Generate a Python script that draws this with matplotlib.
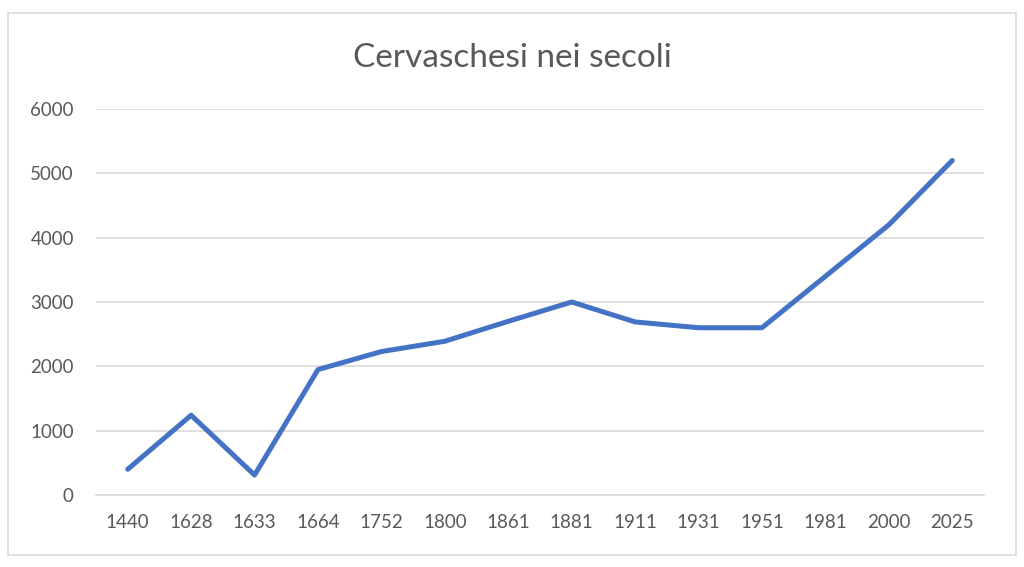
import matplotlib
matplotlib.use('Agg')
import matplotlib.pyplot as plt
from matplotlib.patches import Rectangle

anni = ['1440', '1628', '1633', '1664', '1752', '1800', '1861', '1881',
        '1911', '1931', '1951', '1981', '2000', '2025']
abitanti = [400, 1240, 310, 1950, 2230, 2390, 2700, 3000,
            2690, 2600, 2600, 3400, 4200, 5200]
yticks = [0, 1000, 2000, 3000, 4000, 5000, 6000]

plt.rcParams['font.family'] = ['Lato', 'DejaVu Sans']
grey = '#595959'

fig = plt.figure(figsize=(10.24, 5.67), dpi=100)
# chart border
fig.patches.append(Rectangle((8/1024, 1-555/567), 1008/1024, 542/567,
                             transform=fig.transFigure, fill=False,
                             edgecolor='#D9D9D9', linewidth=1.2))

ax = fig.add_axes([96/1024, 1-495/567, 888/1024, 386/567])
x = list(range(len(anni)))
ax.plot(x, abitanti, color='#4472C4', linewidth=3.6, solid_capstyle='round',
        solid_joinstyle='round', zorder=3)

ax.set_xlim(-0.5, len(anni) - 0.5)
ax.set_ylim(0, 6000)
ax.set_yticks(yticks)
ax.set_yticklabels([str(v) for v in yticks])
ax.set_xticks(x)
ax.set_xticklabels(anni)
ax.grid(axis='y', color='#D9D9D9', linewidth=1.2)
ax.set_axisbelow(True)
for s in ['top', 'right', 'left']:
    ax.spines[s].set_visible(False)
ax.spines['bottom'].set_color('#D9D9D9')
ax.spines['bottom'].set_linewidth(1.2)
ax.tick_params(length=0, labelsize=13.5, labelcolor=grey)
ax.tick_params(axis='y', pad=16)
ax.tick_params(axis='x', pad=14)

fig.text(0.5, 1-58/567, 'Cervaschesi nei secoli', ha='center', va='center',
         fontsize=24, color=grey)

fig.savefig('out.png', dpi=100, facecolor='white')
